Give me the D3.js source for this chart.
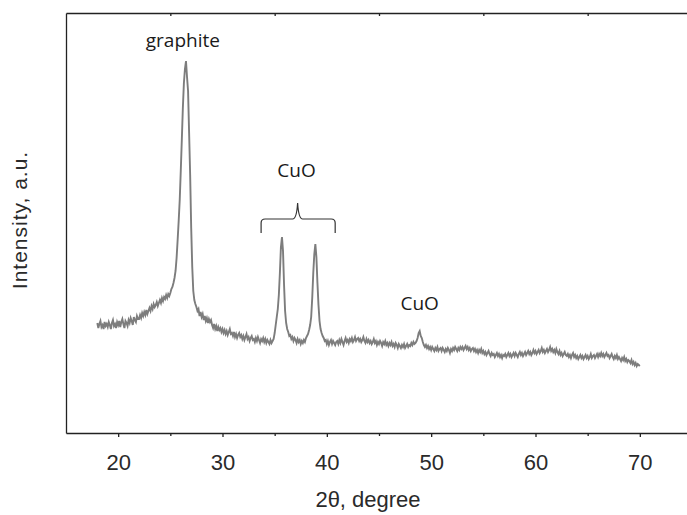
<!DOCTYPE html>
<html>
<head>
<meta charset="utf-8">
<script src="https://cdn.jsdelivr.net/npm/d3@7"></script>
<style>
  html, body { margin: 0; padding: 0; background: #fff; }
  svg { display: block; }
</style>
</head>
<body>
<svg id="svg_xrd"></svg>
<script>
let chartWidth = 687;
let chartHeight = 515;

// scan grid of the diffractometer (2theta, degree)
const scanStart = 18.0;
const scanStep = 0.1;

// intensity, a.u. - one row per degree, 18.0 ... 70.0
const intensity = [
  110,105,109,112,106,108,104,111,107,109, // 18
  106,111,108,104,110,113,107,109,105,111, // 19
  108,112,106,111,114,109,105,112,110,107, // 20
  113,110,115,112,108,116,113,111,117,114, // 21
  114,118,115,120,117,121,118,123,119,122, // 22
  125,122,127,124,129,126,128,131,127,130, // 23
  133,130,135,132,136,134,138,135,139,137, // 24
  140,144,146,150,155,162,175,193,212,233, // 25
  262,293,325,350,364,372,356,342,300,258, // 26
  205,166,142,133,129,126,122,124,117,121, // 27
  116,119,113,117,112,115,110,114,111,113, // 28
  108,105,109,104,107,102,106,103,105,101, // 29
  104,100,103,99,102,98,101,104,99,100,    // 30
  97,101,96,99,95,98,100,96,98,94,         // 31
  97,93,96,99,94,96,92,95,97,93,           // 32
  94,91,95,92,96,93,90,94,92,95,           // 33
  91,94,90,93,91,89,93,90,92,94,           // 34
  100,108,116,124,138,160,186,196,182,148, // 35
  122,110,104,101,97,98,94,96,92,95,       // 36
  93,90,94,91,93,89,92,90,93,91,           // 37
  95,97,99,103,108,116,135,160,179,189,    // 38
  176,150,128,112,104,100,97,95,92,93,     // 39
  89,92,88,91,93,89,92,90,88,91,           // 40
  92,89,93,90,94,91,88,92,95,91,           // 41
  93,90,94,92,95,91,93,96,92,94,           // 42
  95,92,94,91,93,96,92,90,94,91,           // 43
  93,90,92,89,91,94,90,92,88,91,           // 44
  89,92,90,87,91,89,92,88,90,87,           // 45
  90,88,91,87,89,86,90,88,85,89,           // 46
  87,85,88,86,89,85,87,89,86,88,           // 47
  87,90,88,91,89,90,92,95,100,102,         // 48
  97,95,91,88,86,88,85,87,84,86,           // 49
  83,86,84,82,85,83,86,82,84,85,           // 50
  82,85,83,81,84,82,85,83,80,84,           // 51
  82,85,83,86,84,82,85,83,86,84,           // 52
  86,83,85,87,84,86,83,85,82,84,           // 53
  85,82,84,81,83,80,83,81,84,80,           // 54
  82,79,81,78,80,82,79,77,80,78,           // 55
  79,76,78,80,77,79,76,78,75,78,           // 56
  77,79,76,78,80,77,79,76,78,80,           // 57
  77,80,78,76,79,81,78,80,77,79,           // 58
  81,78,80,82,79,81,78,80,83,80,           // 59
  82,79,81,83,80,82,85,81,83,80,           // 60
  82,84,81,83,86,82,84,81,83,80,           // 61
  84,81,79,82,78,80,77,79,81,78,           // 62
  77,79,76,78,75,78,80,76,78,75,           // 63
  77,74,76,78,75,77,74,76,78,75,           // 64
  77,74,76,79,75,77,78,75,77,79,           // 65
  76,79,77,80,77,79,76,78,80,77,           // 66
  78,75,77,79,76,74,77,75,78,74,           // 67
  76,74,72,75,73,76,72,74,71,73,           // 68
  72,70,73,69,71,68,70,67,69,68,           // 69
  67                                       // 70
];

const xTicks = [20, 30, 40, 50, 60, 70];
const xMinorTicks = [25, 35, 45, 55, 65];
const xDomain = [15, 75];
const yDomain = [0, 420];

// peak annotations: text, 2theta position, baseline level
const peakLabels = ["graphite", "CuO", "CuO"];
const peakLabelAngle = [26.2, 37.1, 48.9];
const peakLabelLevel = [386, 256, 123];

// bracket over the two CuO reflections
const braceAngles = [33.7, 37.2, 40.8];   // left, tip, right
const braceLevels = [200, 214, 230];      // legs, bar, tip

let svg = d3.select("#svg_xrd")
    .attr("width", chartWidth)
    .attr("height", chartHeight);

let x = d3.scaleLinear().domain(xDomain).range([66, 692]);
let y = d3.scaleLinear().domain(yDomain).range([433, 13]);

let axisFont = "'Liberation Sans', Arial, sans-serif";
let noteFont = "'Open Sans', 'Noto Sans', sans-serif";

// bottom axis with labels
let gBottom = svg.append("g")
    .attr("transform", "translate(0," + y(0) + ")")
    .call(d3.axisBottom(x).tickValues(xTicks).tickSize(4).tickSizeOuter(0));
gBottom.select(".domain").attr("stroke", "#222").attr("stroke-width", 1.3);
gBottom.selectAll(".tick line").attr("stroke", "#222").attr("stroke-width", 1.3);
gBottom.selectAll(".tick text")
    .attr("y", 37)
    .attr("dy", null)
    .attr("fill", "#2a2a2a")
    .style("font-family", axisFont)
    .style("font-size", "22px");

// minor ticks
let gMinor = svg.append("g")
    .attr("transform", "translate(0," + y(0) + ")")
    .call(d3.axisBottom(x).tickValues(xMinorTicks).tickSize(3).tickFormat(""));
gMinor.select(".domain").remove();
gMinor.selectAll(".tick line").attr("stroke", "#222").attr("stroke-width", 1.3);

// top axis, ticks pointing inside
let gTop = svg.append("g")
    .attr("transform", "translate(0," + y(yDomain[1]) + ")")
    .call(d3.axisTop(x).tickValues(xMinorTicks).tickSize(-3).tickSizeOuter(0).tickFormat(""));
gTop.select(".domain").attr("stroke", "#222").attr("stroke-width", 1.3);
gTop.selectAll(".tick line").attr("stroke", "#222").attr("stroke-width", 1.3);

// left and right frame
let gLeft = svg.append("g")
    .attr("transform", "translate(" + x(xDomain[0]) + ",0)")
    .call(d3.axisLeft(y).tickValues([]).tickSizeOuter(0));
gLeft.select(".domain").attr("stroke", "#222").attr("stroke-width", 1.3);
let gRight = svg.append("g")
    .attr("transform", "translate(" + x(xDomain[1]) + ",0)")
    .call(d3.axisRight(y).tickValues([]).tickSizeOuter(0));
gRight.select(".domain").attr("stroke", "#222").attr("stroke-width", 1.3);

// axis titles
svg.append("text")
    .attr("x", 368)
    .attr("y", 507)
    .attr("text-anchor", "middle")
    .attr("fill", "#2a2a2a")
    .style("font-family", axisFont)
    .style("font-size", "22px")
    .text("2θ, degree");

svg.append("text")
    .attr("transform", "translate(27,220) rotate(-90)")
    .attr("text-anchor", "middle")
    .attr("fill", "#2a2a2a")
    .style("font-family", axisFont)
    .style("font-size", "21px")
    .style("letter-spacing", "1px")
    .text("Intensity, a.u.");

// diffraction pattern
let line = d3.line()
    .x(function (d, i) { return x(scanStart + i * scanStep); })
    .y(function (d) { return y(d); });

svg.append("path")
    .datum(intensity)
    .attr("d", line)
    .attr("fill", "none")
    .attr("stroke", "#7d7d7d")
    .attr("stroke-width", 1.9)
    .attr("stroke-linejoin", "miter");

// bracket
let xl = x(braceAngles[0]), xc = x(braceAngles[1]), xr = x(braceAngles[2]);
let yLeg = y(braceLevels[0]), yBar = y(braceLevels[1]), yTip = y(braceLevels[2]);
let brace = d3.path();
brace.moveTo(xl, yLeg);
brace.lineTo(xl, yBar + 4);
brace.quadraticCurveTo(xl, yBar, xl + 4, yBar);
brace.lineTo(xc - 5, yBar);
brace.quadraticCurveTo(xc - 1, yBar, xc, yTip);
brace.quadraticCurveTo(xc + 1, yBar, xc + 5, yBar);
brace.lineTo(xr - 4, yBar);
brace.quadraticCurveTo(xr, yBar, xr, yBar + 4);
brace.lineTo(xr, yLeg);

svg.append("path")
    .attr("d", brace.toString())
    .attr("fill", "none")
    .attr("stroke", "#333")
    .attr("stroke-width", 1.2);

// peak labels
svg.selectAll(".peakLabel")
    .data(peakLabels)
    .enter().append("text")
    .attr("class", "peakLabel")
    .attr("x", function (d, i) { return x(peakLabelAngle[i]); })
    .attr("y", function (d, i) { return y(peakLabelLevel[i]); })
    .attr("text-anchor", "middle")
    .attr("fill", "#1a1a1a")
    .style("font-family", noteFont)
    .style("font-size", "19px")
    .text(function (d) { return d; });
</script>
</body>
</html>
